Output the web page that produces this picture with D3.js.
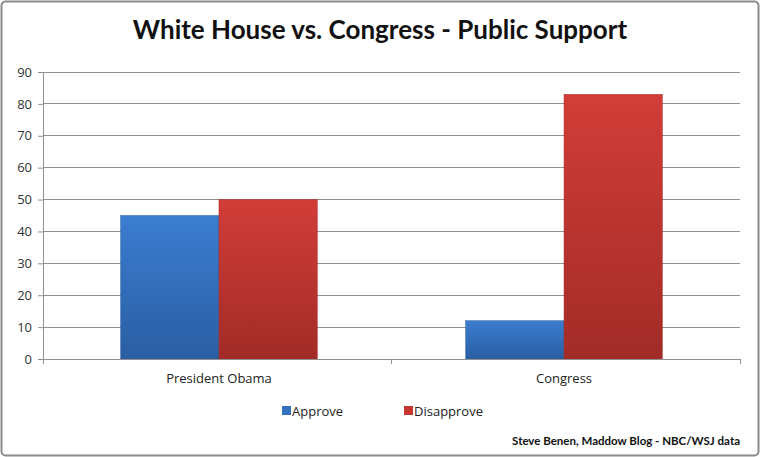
<!DOCTYPE html>
<html><head><meta charset="utf-8">
<script src="https://cdn.jsdelivr.net/npm/d3@7"></script>
<style>body{margin:0;background:#fff;}svg{display:block;}</style>
</head><body>
<script>
const categories = ["President Obama", "Congress"];
const seriesNames = ["Approve", "Disapprove"];
const approve = [45, 12];
const disapprove = [50, 83];
const yTicks = [0,10,20,30,40,50,60,70,80,90];

const W = 760, H = 457;
const svg = d3.select("body").append("svg").attr("width", W).attr("height", H);
const defs = svg.append("defs");
function grad(id, c1, c2){
  const g = defs.append("linearGradient").attr("id", id).attr("x1",0).attr("y1",0).attr("x2",0).attr("y2",1);
  g.append("stop").attr("offset","0%").attr("stop-color",c1);
  g.append("stop").attr("offset","100%").attr("stop-color",c2);
}
grad("gBlue", "#3B7DD0", "#2A5EA3");
grad("gRed", "#D23D38", "#A22B27");

svg.append("rect").attr("x",1.5).attr("y",1.5).attr("width",W-3).attr("height",H-3)
  .attr("rx",4).attr("fill","#fff").attr("stroke","#8a8a8a").attr("stroke-width",2);

svg.append("text").attr("x",380).attr("y",39).attr("text-anchor","middle")
  .attr("font-family","Lato, 'Open Sans', sans-serif").attr("font-weight","bold")
  .attr("font-size",26).attr("fill","#111").text("White House vs. Congress - Public Support");

const pLeft = 43, pRight = 740, pTop = 72, pBottom = 359;
const y = d3.scaleLinear().domain([0,90]).range([pBottom, pTop]);
const x0 = d3.scaleBand().domain(categories).range([pLeft, pRight]).paddingInner(0.43).paddingOuter(0.225);
const x1 = d3.scaleBand().domain(seriesNames).range([0, x0.bandwidth()]);

// gridlines
svg.append("g").selectAll("line").data(yTicks).join("line")
  .attr("x1", pLeft).attr("x2", pRight).attr("y1", d=>y(d)).attr("y2", d=>y(d))
  .attr("stroke","#909090").attr("stroke-width",1).attr("shape-rendering","crispEdges");

// y axis
const yAxis = svg.append("g").attr("transform",`translate(${pLeft},0)`)
  .call(d3.axisLeft(y).tickValues(yTicks).tickSize(5).tickPadding(6));
yAxis.select(".domain").attr("stroke","#909090");
yAxis.selectAll(".tick line").attr("stroke","#909090");
yAxis.selectAll("text").attr("font-family","'Open Sans', sans-serif").attr("font-size",13).attr("fill","#333");

// bars
const data = categories.map((c,i)=>({cat:c, vals:[{k:"Approve",v:approve[i]},{k:"Disapprove",v:disapprove[i]}]}));
const fills = {Approve:"url(#gBlue)", Disapprove:"url(#gRed)"};
const strokes = {Approve:"#2C5F9E", Disapprove:"#A8302C"};
svg.append("g").selectAll("g").data(data).join("g")
  .attr("transform", d=>`translate(${x0(d.cat)},0)`)
  .selectAll("rect").data(d=>d.vals).join("rect")
  .attr("x", d=>x1(d.k)).attr("width", x1.bandwidth())
  .attr("y", d=>y(d.v)).attr("height", d=>y(0)-y(d.v))
  .attr("fill", d=>fills[d.k]).attr("stroke", d=>strokes[d.k]).attr("stroke-width",0.5);

// x axis
const xAxis = svg.append("g").attr("transform",`translate(0,${pBottom})`)
  .call(d3.axisBottom(x0).tickSize(0).tickPadding(15));
xAxis.select(".domain").attr("stroke","#909090");
xAxis.selectAll("text").attr("font-family","'Open Sans', sans-serif").attr("font-size",13).attr("fill","#222");
// category separator ticks
const seps = [pLeft, (pLeft+pRight)/2, pRight];
svg.append("g").selectAll("line").data(seps).join("line")
  .attr("x1", d=>d).attr("x2", d=>d).attr("y1", pBottom).attr("y2", pBottom+5)
  .attr("stroke","#909090").attr("shape-rendering","crispEdges");

// legend
const legColors = {Approve:"#3470C0", Disapprove:"#C63631"};
const legX = [282, 404];
const leg = svg.append("g").selectAll("g").data(seriesNames).join("g")
  .attr("transform",(d,i)=>`translate(${legX[i]},406)`);
leg.append("rect").attr("width",9).attr("height",9).attr("fill",d=>legColors[d]);
leg.append("text").attr("x",10).attr("y",9.5).attr("font-family","'Open Sans', sans-serif")
  .attr("font-size",13).attr("fill","#222").text(d=>d);

svg.append("text").attr("x",740).attr("y",445).attr("text-anchor","end")
  .attr("font-family","Lato, 'Open Sans', sans-serif").attr("font-weight","bold")
  .attr("font-size",11.5).attr("fill","#111").text("Steve Benen, Maddow Blog - NBC/WSJ data");
</script>
</body></html>
